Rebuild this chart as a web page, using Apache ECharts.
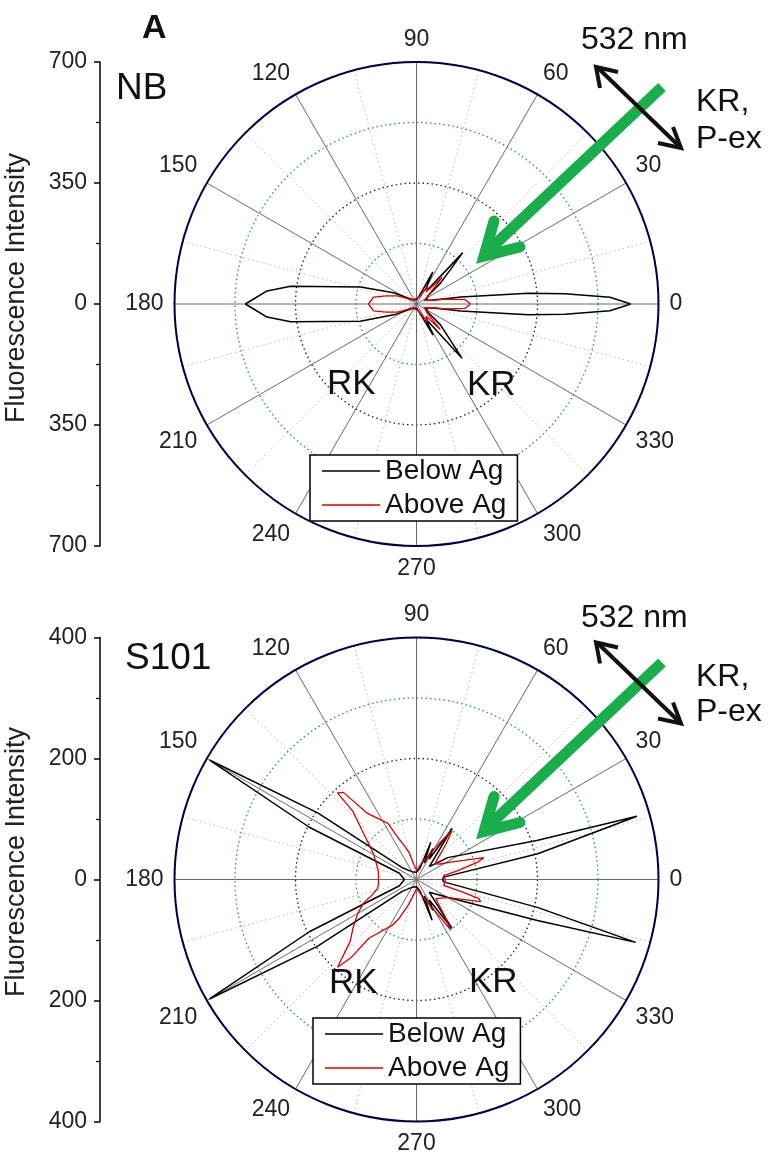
<!DOCTYPE html>
<html>
<head>
<meta charset="utf-8">
<script src="https://cdn.jsdelivr.net/npm/echarts@6/dist/echarts.min.js"></script>
<style>
html,body{margin:0;padding:0;background:#fff;}
#chart{width:768px;height:1160px;}
</style>
</head>
<body>
<div id="chart"></div>
<script>
// ---------------- DATA ----------------
// Panel NB (radius scale 0..700)
const nbBelowAngle = [0, 2, 4, 5.5, 9, 14, 22, 35, 41, 48, 51, 58, 63, 67, 75, 90, 110, 130, 145, 154, 163, 172, 175, 180, 185, 188, 197, 206, 215, 230, 250, 270, 285, 293, 298, 302, 310, 319, 325, 338, 346, 351, 354.5, 356, 358, 360];
const nbBelowR     = [620, 560, 430, 325, 130, 45, 30, 40, 92, 200, 60, 50, 104, 40, 20, 12, 12, 15, 30, 74, 169, 368, 434, 495, 434, 368, 170, 70, 30, 15, 12, 12, 20, 40, 102, 50, 205, 92, 40, 30, 45, 130, 325, 430, 560, 620];
const nbAboveAngle = [0, 5, 9, 15, 25, 35, 46, 52, 58, 65, 80, 90, 110, 130, 145, 157, 165, 171, 180, 189, 195, 203, 215, 230, 250, 270, 285, 295, 302, 308, 313, 320, 335, 345, 351, 355, 360];
const nbAboveR     = [156, 142, 90, 40, 25, 40, 107, 45, 60, 25, 18, 15, 15, 18, 25, 60, 90, 126, 139, 126, 90, 60, 25, 18, 15, 15, 20, 35, 60, 45, 101, 40, 25, 40, 90, 142, 156];

// Panel S101 (radius scale 0..400)
const s1BelowAngle = [0, 5, 12, 16, 18, 35, 45, 55, 58, 62, 65, 69, 73, 90, 120, 140, 146, 150, 154, 160, 180, 200, 206, 210, 214, 220, 240, 270, 287, 291, 295, 298, 302, 306, 315, 330, 341.3, 344, 347, 355, 360];
const s1BelowR     = [43, 45, 205, 379, 209, 63, 30, 103, 40, 58, 30, 66, 20, 12, 15, 30, 197, 395, 197, 30, 20, 30, 197, 395, 197, 30, 15, 12, 20, 72, 30, 58, 40, 100, 30, 59, 211, 377, 205, 45, 43];
const s1AboveAngle = [0, 3, 8, 12, 16, 18, 22, 28, 33, 40, 45, 50, 54, 58, 65, 72, 80, 90, 100, 105, 110, 114, 117, 126.6, 130, 132.4, 133, 139, 149, 155, 160, 167, 175, 180, 185, 193, 200, 204, 210, 217, 223, 228, 230, 231, 242, 246, 252, 260, 270, 280, 290, 297, 304, 308, 315, 322, 330, 336, 341, 343, 345, 348, 355, 360];
const s1AboveR     = [48, 46, 45, 70, 106, 117, 84, 60, 47, 40, 50, 75, 100, 70, 40, 30, 20, 15, 25, 45, 60, 76, 104, 136, 188, 194, 154, 116, 83, 75, 70, 65, 63, 63, 63, 66, 80, 96, 112, 131, 150, 195, 169, 125, 86, 70, 45, 25, 15, 20, 30, 45, 100, 75, 45, 50, 60, 80, 112, 108, 76, 46, 47, 48];

// Axis scales / ticks
const nbMax = 700, nbRing = 175, nbYInterval = 350;
const s1Max = 400, s1Ring = 100, s1YInterval = 200;
const angleInterval = 30;
const seriesNames = ['Below Ag', 'Above Ag'];

// ---------------- LAYOUT ----------------
const FONT = '"Liberation Sans", Arial, sans-serif';
const CX = 416.5, R = 242;
const CY1 = 304, CY2 = 879.5;
const DY = CY2 - CY1;
const GREEN = '#1aad4c';
const RING_GREEN = '#1f9e45';
const RING_BLUE = '#10108a';

function pairs(rs, as) { return rs.map((r, i) => [r, as[i]]); }

function polarCfg(cy) { return { center: [CX, cy], radius: R }; }

function angleAxisCfg(idx) {
  return {
    polarIndex: idx, type: 'value', min: 0, max: 360, interval: angleInterval,
    startAngle: 0, clockwise: false,
    axisLine: { show: true, lineStyle: { color: '#00004a', width: 2 } },
    axisTick: { show: false },
    minorTick: { show: false, splitNumber: 2 },
    minorSplitLine: { show: true, lineStyle: { color: '#b8b8b8', width: 1, type: [1.5, 3] } },
    splitLine: { show: true, lineStyle: { color: '#6a6a6a', width: 1 } },
    axisLabel: { show: true, margin: 11, fontSize: 23, color: '#222', fontFamily: FONT,
      formatter: v => (v === 360 ? '' : String(v)) }
  };
}
function radiusAxisCfg(idx, max, ring) {
  return {
    polarIndex: idx, type: 'value', min: 0, max: max, interval: ring,
    axisLine: { show: false }, axisTick: { show: false }, axisLabel: { show: false },
    splitLine: { show: true, lineStyle: { color: [RING_GREEN, RING_GREEN, RING_BLUE, RING_GREEN, '#00004a'], width: 1.3, type: [1.5, 3] } }
  };
}
function yAxisCfg(idx, max, interval) {
  return {
    gridIndex: idx, type: 'value', min: -max, max: max, interval: interval,
    axisLine: { show: true, onZero: false, lineStyle: { color: '#000', width: 1.5 } },
    axisTick: { show: true, length: 6, lineStyle: { color: '#000', width: 1.5 } },
    minorTick: { show: true, splitNumber: 2, length: 4, lineStyle: { color: '#000', width: 1.2 } },
    splitLine: { show: false },
    axisLabel: { margin: 13, fontSize: 23, color: '#222', fontFamily: FONT, formatter: v => String(Math.abs(v)) }
  };
}
function xAxisCfg(idx) {
  return { gridIndex: idx, type: 'value', min: 0, max: 1, show: false };
}
function legendCfg(left, top) {
  return {
    data: seriesNames, orient: 'vertical', left: left, top: top,
    icon: 'rect', itemWidth: 58, itemHeight: 1.6, itemGap: 6,
    padding: [2, 11, 2, 12],
    borderColor: '#000', borderWidth: 1.5, backgroundColor: '#fff',
    textStyle: { fontSize: 28, color: '#111', fontFamily: FONT },
    selectedMode: false, z: 20
  };
}
function lineSeries(name, polarIdx, data, color, width) {
  return {
    name: name, type: 'line', coordinateSystem: 'polar', polarIndex: polarIdx,
    data: data, symbol: 'none', smooth: false, animation: false,
    lineStyle: { color: color, width: width }, itemStyle: { color: color }, z: 5
  };
}

function txt(text, x, y, size, extra) {
  return {
    type: 'text', x: x, y: y, z: 30,
    style: Object.assign({ text: text, fontSize: size, fontFamily: FONT, fill: '#111', textVerticalAlign: 'middle', textAlign: 'left' }, extra || {})
  };
}
function arrowGraphics(dy) {
  const g = [];
  // green beam arrow
  g.push({ type: 'line', z: 25, shape: { x1: 662, y1: 87 + dy, x2: 489, y2: 250 + dy },
    style: { stroke: GREEN, lineWidth: 11, lineCap: 'butt' } });
  g.push({ type: 'polyline', z: 25, shape: { points: [[494, 221 + dy], [484, 256 + dy], [520, 247 + dy]] },
    style: { stroke: GREEN, lineWidth: 11, lineJoin: 'miter', lineCap: 'round', fill: null } });
  // black double arrow (polarisation)
  g.push({ type: 'line', z: 26, shape: { x1: 598, y1: 68 + dy, x2: 679, y2: 146 + dy },
    style: { stroke: '#111', lineWidth: 4 } });
  g.push({ type: 'polyline', z: 26, shape: { points: [[618, 72 + dy], [596, 67 + dy], [600, 88 + dy]] },
    style: { stroke: '#111', lineWidth: 4, fill: null, lineJoin: 'miter' } });
  g.push({ type: 'polyline', z: 26, shape: { points: [[658, 143 + dy], [681, 148 + dy], [673, 127 + dy]] },
    style: { stroke: '#111', lineWidth: 4, fill: null, lineJoin: 'miter' } });
  return g;
}

const graphics = [].concat(
  [
    txt('A', 142, 29, 34, { fontWeight: 'bold' }),
    txt('NB', 116, 89, 37),
    txt('532 nm', 581, 40, 32),
    txt('KR,', 696, 102, 32),
    txt('P-ex', 696, 139, 32),
    txt('RK', 327, 384, 35),
    txt('KR', 467, 385, 35),
    txt('S101', 125, 659, 37),
    txt('532 nm', 581, 40 + DY + 3, 32),
    txt('KR,', 696, 102 + DY, 32),
    txt('P-ex', 696, 139 + DY - 2, 32),
    txt('RK', 329, 983, 35),
    txt('KR', 469, 982, 35),
    { type: 'text', x: 17, y: 288, rotation: Math.PI / 2, z: 30,
      style: { text: 'Fluorescence Intensity', fontSize: 27, fontFamily: FONT, fill: '#222', textAlign: 'center', textVerticalAlign: 'middle' } },
    { type: 'text', x: 17, y: 862, rotation: Math.PI / 2, z: 30,
      style: { text: 'Fluorescence Intensity', fontSize: 27, fontFamily: FONT, fill: '#222', textAlign: 'center', textVerticalAlign: 'middle' } }
  ],
  arrowGraphics(0),
  arrowGraphics(DY)
);

const option = {
  backgroundColor: '#fff',
  animation: false,
  textStyle: { fontFamily: FONT },
  polar: [polarCfg(CY1), polarCfg(CY2)],
  angleAxis: [angleAxisCfg(0), angleAxisCfg(1)],
  radiusAxis: [radiusAxisCfg(0, nbMax, nbRing), radiusAxisCfg(1, s1Max, s1Ring)],
  grid: [
    { left: 100, top: CY1 - R, width: 1, height: 2 * R },
    { left: 100, top: CY2 - R, width: 1, height: 2 * R }
  ],
  xAxis: [xAxisCfg(0), xAxisCfg(1)],
  yAxis: [yAxisCfg(0, nbMax, nbYInterval), yAxisCfg(1, s1Max, s1YInterval)],
  legend: [legendCfg(310, 455), legendCfg(313, 1018)],
  series: [
    lineSeries(seriesNames[0], 0, pairs(nbBelowR, nbBelowAngle), '#000', 1.5),
    lineSeries(seriesNames[1], 0, pairs(nbAboveR, nbAboveAngle), '#e00000', 1.3),
    lineSeries(seriesNames[0], 1, pairs(s1BelowR, s1BelowAngle), '#000', 1.5),
    lineSeries(seriesNames[1], 1, pairs(s1AboveR, s1AboveAngle), '#e00000', 1.3)
  ],
  graphic: graphics
};

const chart = echarts.init(document.getElementById('chart'), null, { renderer: 'canvas' });
chart.setOption(option);
</script>
</body>
</html>
